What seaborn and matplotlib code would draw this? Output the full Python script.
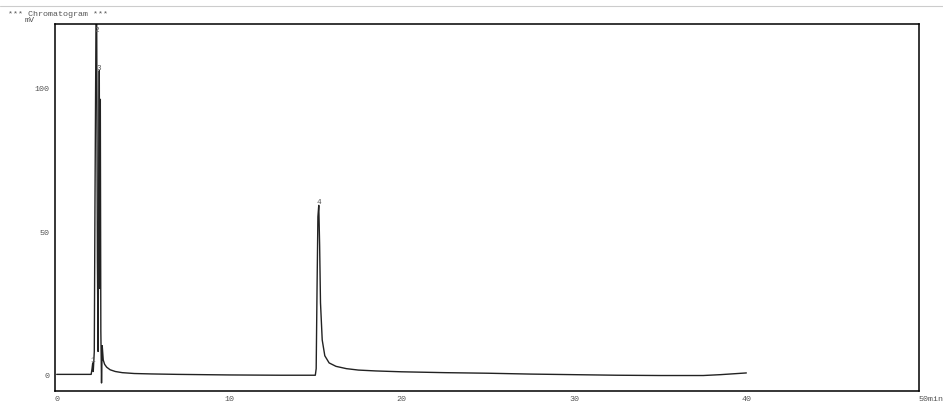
import numpy as np
import pandas as pd
import matplotlib
matplotlib.use('Agg')
import matplotlib.pyplot as plt
import seaborn as sns
from matplotlib.lines import Line2D

# retention time (min) and detector signal (mV)
time_min = [0, 2.0, 2.05, 2.09, 2.12, 2.18, 2.22, 2.28, 2.32, 2.36, 2.40, 2.44,
            2.47, 2.50, 2.53, 2.56, 2.60, 2.64, 2.70, 2.78, 2.9, 3.1, 3.4, 3.8,
            4.5, 5.5, 7, 10, 13, 15.0, 15.05, 15.1, 15.15, 15.2, 15.25, 15.3,
            15.4, 15.55, 15.8, 16.2, 16.8, 17.5, 18.5, 20, 22.5, 25, 27.5, 30,
            32.5, 35, 37.5, 38.5, 40]
signal_mv = [0, 0, 2, 4, 1, 8, 60, 124, 124, 40, 8, 60,
             106, 30, 96, 15, -3, 10, 5, 3.5, 2.5, 1.6, 1.0, 0.6,
             0.3, 0.15, 0.0, -0.2, -0.3, -0.3, 2, 30, 55, 59, 45, 25,
             12, 6.5, 4, 2.8, 2.0, 1.5, 1.2, 0.9, 0.6, 0.4, 0.1, -0.1,
             -0.3, -0.4, -0.4, -0.1, 0.5]

# peak labels
peak_ids = ['1', '2', '3', '4']
peak_time = [2.09, 2.30, 2.47, 15.2]
peak_height = [4, 119, 106, 59]

x_ticks = [0, 10, 20, 30, 40]
y_ticks = [0, 50, 100]

df = pd.DataFrame({'t': time_min, 'mV': signal_mv})

sns.set_style('white')
plt.rcParams['font.family'] = ['Liberation Mono', 'DejaVu Sans Mono']

fig = plt.figure(figsize=(9.43, 4.02), dpi=100)
ax = fig.add_axes([0.0583, 0.0249, 0.916, 0.913])

sns.lineplot(data=df, x='t', y='mV', ax=ax, color='#222222', linewidth=1.0,
             estimator=None, sort=False)

for pid, pt, ph in zip(peak_ids, peak_time, peak_height):
    ax.text(pt, ph, pid, fontsize=5.5, color='#555555', ha='center', va='bottom')

ax.set_xlim(-0.1, 50)
ax.set_ylim(-5.8, 122.3)
ax.set_xticks(x_ticks + [50])
ax.set_xticklabels([str(v) for v in x_ticks] + [''])
ax.set_yticks(y_ticks)
ax.tick_params(axis='both', labelsize=6, colors='#555555', length=3, width=0.8,
               direction='out', pad=1)
ax.tick_params(axis='x', length=0, pad=3)
ax.set_xlabel('')
ax.set_ylabel('')
for s in ax.spines.values():
    s.set_color('black')
    s.set_linewidth(1.1)

ax.text(1.0, -0.012, '50min', transform=ax.transAxes, fontsize=6,
        color='#555555', ha='left', va='top')

fig.text(8 / 943, 1 - 14 / 402, '*** Chromatogram ***', fontsize=6,
         color='#555555', ha='left', va='center')
fig.text(25 / 943, 1 - 20.5 / 402, 'mV', fontsize=6, color='#555555',
         ha='left', va='center')
fig.add_artist(Line2D([0, 1], [1 - 7 / 402, 1 - 7 / 402],
                      transform=fig.transFigure, color='#cccccc', linewidth=0.8))

fig.savefig('out.png', dpi=100)
